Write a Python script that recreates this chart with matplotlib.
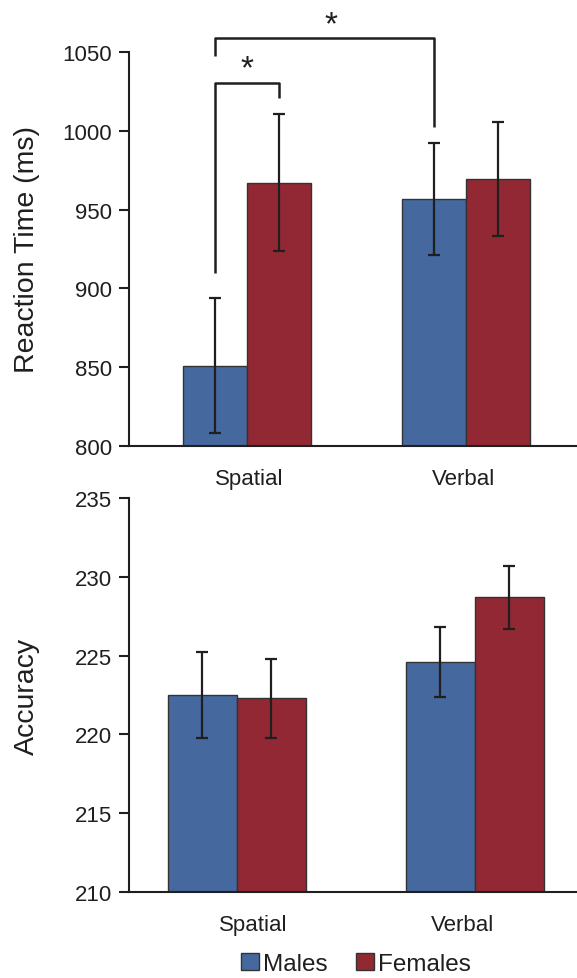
import matplotlib
matplotlib.use("Agg")
import matplotlib.pyplot as plt
import matplotlib.patches as mpatches
import numpy as np

plt.rcParams["font.family"] = ["Liberation Sans", "DejaVu Sans"]

categories = ["Spatial", "Verbal"]
groups = ["Males", "Females"]

# reaction time (ms)
rt_males = [851, 957]
rt_females = [967, 969.5]
rt_males_err = [43, 35.5]
rt_females_err = [43.5, 36]

# accuracy
acc_males = [222.5, 224.6]
acc_females = [222.3, 228.7]
acc_males_err = [2.7, 2.2]
acc_females_err = [2.5, 2.0]

BLUE = "#45689e"
RED = "#912833"
EDGE = "#333333"
INK = "#1f1f1f"

fig = plt.figure(figsize=(5.77, 9.79), dpi=100)
ax1 = fig.add_axes([0.2236, 0.5434, 0.7764, 0.4025])
ax2 = fig.add_axes([0.2236, 0.0878, 0.7764, 0.4025])


def draw_panel(ax, males, females, m_err, f_err, width):
    x = np.arange(len(categories))
    ekw = dict(ecolor=INK, elinewidth=1.6, capsize=4, capthick=1.6)
    ax.bar(x - width / 2, males, width, color=BLUE, edgecolor=EDGE,
           linewidth=1, yerr=m_err, error_kw=ekw)
    ax.bar(x + width / 2, females, width, color=RED, edgecolor=EDGE,
           linewidth=1, yerr=f_err, error_kw=ekw)
    for s in ("top", "right"):
        ax.spines[s].set_visible(False)
    for s in ("left", "bottom"):
        ax.spines[s].set_linewidth(1.5)
        ax.spines[s].set_color(INK)
    ax.tick_params(axis="y", direction="out", length=7.5, width=1.5,
                   color=INK, labelsize=16, labelcolor=INK, pad=5)
    ax.tick_params(axis="x", length=0, labelsize=16, labelcolor=INK, pad=16)
    return x


w1 = 0.293
draw_panel(ax1, rt_males, rt_females, rt_males_err, rt_females_err, w1)
ax1.set_ylim(800, 1050)
ax1.set_yticks([800, 850, 900, 950, 1000, 1050])
ax1.set_xlim(-0.542, 1.508)
ax1.set_xticks([0.01, 0.99])
ax1.set_xticklabels(categories)
ax1.set_ylabel("Reaction Time (ms)", fontsize=20.5, color=INK)

# significance brackets
bk = dict(color=INK, lw=1.8, clip_on=False, solid_capstyle="butt")
ax1.plot([-w1 / 2, -w1 / 2, w1 / 2, w1 / 2], [910, 1030.3, 1030.3, 1021], **bk)
ax1.text(0, 1034, "*", ha="center", va="baseline", fontsize=24, color=INK)
ax1.plot([-w1 / 2, -w1 / 2, 1 - w1 / 2, 1 - w1 / 2],
         [1047.5, 1058.9, 1058.9, 1002.4], **bk)
ax1.text(0.38, 1062, "*", ha="center", va="baseline", fontsize=24,
         color=INK, clip_on=False)

w2 = 0.29
draw_panel(ax2, acc_males, acc_females, acc_males_err, acc_females_err, w2)
ax2.set_ylim(210, 235)
ax2.set_yticks([210, 215, 220, 225, 230, 235])
ax2.set_xlim(-0.454, 1.43)
ax2.set_xticks([0.07, 0.95])
ax2.set_xticklabels(categories)
ax2.set_ylabel("Accuracy", fontsize=20.5, color=INK)

for ax in (ax1, ax2):
    ax.yaxis.set_label_coords(-0.198, 0.5)

handles = [
    mpatches.Patch(facecolor=BLUE, edgecolor=EDGE, linewidth=1, label=groups[0]),
    mpatches.Patch(facecolor=RED, edgecolor=EDGE, linewidth=1, label=groups[1]),
]
fig.legend(handles=handles, loc="center", bbox_to_anchor=(0.617, 0.0145),
           ncol=2, frameon=False, fontsize=17.5, handlelength=0.74,
           handleheight=0.74, handletextpad=0.15, columnspacing=1.2,
           borderpad=0, labelcolor=INK)

fig.savefig("out.png", dpi=100)
